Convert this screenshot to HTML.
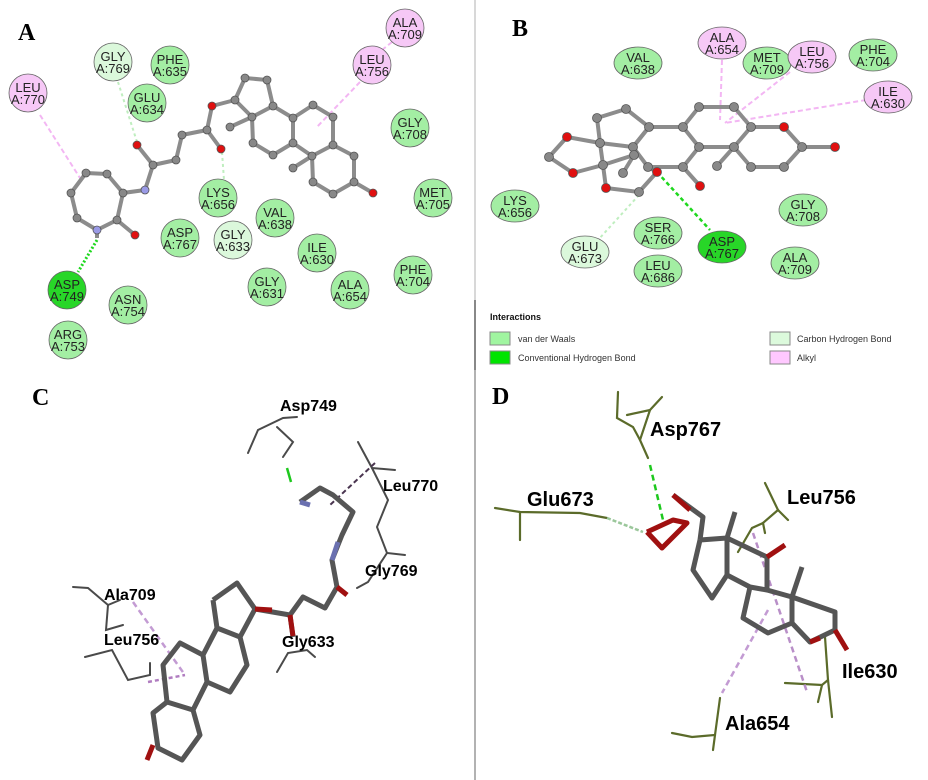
<!DOCTYPE html>
<html><head><meta charset="utf-8"><style>
html,body{margin:0;padding:0;background:#fff;width:928px;height:780px;overflow:hidden}
svg{display:block}
.r text{font-family:"Liberation Sans",sans-serif;font-size:13px;fill:#222;text-anchor:middle}
.lab{font-family:"Liberation Serif",serif;font-weight:bold;font-size:24px;fill:#000}
.res{font-family:"Liberation Sans",sans-serif;font-weight:bold;fill:#000}
.lg{font-family:"Liberation Sans",sans-serif;font-size:9px;fill:#333}
</style></head><body>
<svg width="928" height="780" viewBox="0 0 928 780" xmlns="http://www.w3.org/2000/svg">
<rect width="928" height="780" fill="#fff"/>
<line x1="475" y1="0" x2="475" y2="300" stroke="#ccc" stroke-width="1.5"/>
<line x1="475" y1="300" x2="475" y2="370" stroke="#888" stroke-width="2"/>
<line x1="475" y1="370" x2="475" y2="780" stroke="#999" stroke-width="1.5"/>

<text class="lab" x="18" y="40">A</text>
<text class="lab" x="512" y="36">B</text>
<text class="lab" x="32" y="405">C</text>
<text class="lab" x="492" y="404">D</text>

<g fill="none" stroke-width="2">
<line x1="40" y1="115" x2="80" y2="178" stroke="#f3b6f3" stroke-dasharray="5,3"/>
<line x1="118" y1="82" x2="137" y2="142" stroke="#bfeebf" stroke-dasharray="3,3"/>
<line x1="222" y1="152" x2="224" y2="180" stroke="#bfeebf" stroke-dasharray="3,3"/>
<line x1="360" y1="82" x2="316" y2="128" stroke="#f3b6f3" stroke-dasharray="5,3"/>
<line x1="392" y1="42" x2="382" y2="50" stroke="#f3b6f3" stroke-dasharray="5,3"/>
<line x1="97" y1="240" x2="78" y2="272" stroke="#1ed81e" stroke-width="3" stroke-dasharray="2,2"/>
</g>
<g fill="none" stroke="#8c8c8c" stroke-width="4" stroke-linejoin="round">
<polyline points="86,173 107,174 123,193 117,220 97,230 77,218 71,193 86,173"/>
<polyline points="123,193 145,190 153,165 176,160 182,135 207,130 212,106 235,100"/>
<line x1="153" y1="165" x2="137" y2="145"/>
<line x1="207" y1="130" x2="221" y2="149"/>
<line x1="117" y1="220" x2="135" y2="235"/>
<line x1="97" y1="230" x2="97" y2="238"/>
<polyline points="235,100 245,78 267,80 273,106 252,117 235,100"/>
<line x1="252" y1="117" x2="230" y2="127"/>
<polyline points="252,117 253,143 273,155 293,143 293,118 273,106"/>
<polyline points="293,118 313,105 333,117 333,145 312,156 293,143"/>
<line x1="312" y1="156" x2="293" y2="168"/>
<polyline points="312,156 313,182 333,194 354,182 354,156 333,145"/>
<line x1="354" y1="182" x2="373" y2="193"/>
</g>
<g fill="#888" stroke="#555" stroke-width="0.8">
<circle cx="86" cy="173" r="4"/><circle cx="107" cy="174" r="4"/><circle cx="123" cy="193" r="4"/><circle cx="117" cy="220" r="4"/><circle cx="77" cy="218" r="4"/><circle cx="71" cy="193" r="4"/>
<circle cx="153" cy="165" r="4"/><circle cx="176" cy="160" r="4"/><circle cx="182" cy="135" r="4"/><circle cx="207" cy="130" r="4"/><circle cx="235" cy="100" r="4"/>
<circle cx="245" cy="78" r="4"/><circle cx="267" cy="80" r="4"/><circle cx="273" cy="106" r="4"/><circle cx="252" cy="117" r="4"/><circle cx="230" cy="127" r="4"/>
<circle cx="253" cy="143" r="4"/><circle cx="273" cy="155" r="4"/><circle cx="293" cy="143" r="4"/><circle cx="293" cy="118" r="4"/>
<circle cx="313" cy="105" r="4"/><circle cx="333" cy="117" r="4"/><circle cx="333" cy="145" r="4"/><circle cx="312" cy="156" r="4"/><circle cx="293" cy="168" r="4"/>
<circle cx="313" cy="182" r="4"/><circle cx="333" cy="194" r="4"/><circle cx="354" cy="182" r="4"/><circle cx="354" cy="156" r="4"/>
</g>
<g stroke="#555" stroke-width="0.8">
<circle cx="97" cy="230" r="4" fill="#9a9ae6"/><circle cx="145" cy="190" r="4" fill="#9a9ae6"/>
<circle cx="135" cy="235" r="4" fill="#e01010"/><circle cx="137" cy="145" r="4" fill="#e01010"/><circle cx="221" cy="149" r="4" fill="#e01010"/><circle cx="212" cy="106" r="4" fill="#e01010"/><circle cx="373" cy="193" r="4" fill="#e01010"/>
</g>
<g class="r" stroke="#666" stroke-width="0.8">
<circle cx="28" cy="93" r="19" fill="#f6c8f6"/><circle cx="113" cy="62" r="19" fill="#dbf8db"/><circle cx="170" cy="65" r="19" fill="#a3eea3"/><circle cx="147" cy="103" r="19" fill="#a3eea3"/>
<circle cx="405" cy="28" r="19" fill="#f6c8f6"/><circle cx="372" cy="65" r="19" fill="#f6c8f6"/><circle cx="410" cy="128" r="19" fill="#a3eea3"/><circle cx="433" cy="198" r="19" fill="#a3eea3"/>
<circle cx="218" cy="198" r="19" fill="#a3eea3"/><circle cx="275" cy="218" r="19" fill="#a3eea3"/><circle cx="180" cy="238" r="19" fill="#a3eea3"/><circle cx="233" cy="240" r="19" fill="#dbf8db"/>
<circle cx="317" cy="253" r="19" fill="#a3eea3"/><circle cx="413" cy="275" r="19" fill="#a3eea3"/><circle cx="267" cy="287" r="19" fill="#a3eea3"/><circle cx="350" cy="290" r="19" fill="#a3eea3"/>
<circle cx="67" cy="290" r="19" fill="#28d628"/><circle cx="128" cy="305" r="19" fill="#a3eea3"/><circle cx="68" cy="340" r="19" fill="#a3eea3"/>
</g>
<g class="r">
<text x="28" y="92">LEU</text><text x="28" y="104">A:770</text>
<text x="113" y="61">GLY</text><text x="113" y="73">A:769</text>
<text x="170" y="64">PHE</text><text x="170" y="76">A:635</text>
<text x="147" y="102">GLU</text><text x="147" y="114">A:634</text>
<text x="405" y="27">ALA</text><text x="405" y="39">A:709</text>
<text x="372" y="64">LEU</text><text x="372" y="76">A:756</text>
<text x="410" y="127">GLY</text><text x="410" y="139">A:708</text>
<text x="433" y="197">MET</text><text x="433" y="209">A:705</text>
<text x="218" y="197">LYS</text><text x="218" y="209">A:656</text>
<text x="275" y="217">VAL</text><text x="275" y="229">A:638</text>
<text x="180" y="237">ASP</text><text x="180" y="249">A:767</text>
<text x="233" y="239">GLY</text><text x="233" y="251">A:633</text>
<text x="317" y="252">ILE</text><text x="317" y="264">A:630</text>
<text x="413" y="274">PHE</text><text x="413" y="286">A:704</text>
<text x="267" y="286">GLY</text><text x="267" y="298">A:631</text>
<text x="350" y="289">ALA</text><text x="350" y="301">A:654</text>
<text x="67" y="289">ASP</text><text x="67" y="301">A:749</text>
<text x="128" y="304">ASN</text><text x="128" y="316">A:754</text>
<text x="68" y="339">ARG</text><text x="68" y="351">A:753</text>
</g>

<g fill="none" stroke-width="2">
<line x1="722" y1="60" x2="720" y2="120" stroke="#f3b6f3" stroke-dasharray="5,3"/>
<line x1="790" y1="72" x2="725" y2="123" stroke="#f3b6f3" stroke-dasharray="5,3"/>
<line x1="866" y1="100" x2="725" y2="123" stroke="#f3b6f3" stroke-dasharray="5,3"/>
<line x1="657" y1="172" x2="710" y2="230" stroke="#1ed81e" stroke-width="2.5" stroke-dasharray="4,3"/>
<line x1="639" y1="195" x2="598" y2="240" stroke="#bfeebf" stroke-dasharray="3,3"/>
</g>
<g fill="none" stroke="#8c8c8c" stroke-width="4" stroke-linejoin="round">
<polyline points="597,118 626,109 649,127 633,147 600,143 597,118"/>
<polyline points="600,143 567,137 549,157 573,173 603,165 600,143"/>
<line x1="603" y1="165" x2="634" y2="155"/><line x1="634" y1="155" x2="623" y2="173"/>
<polyline points="603,165 606,188 639,192 657,172 648,167"/>
<polyline points="649,127 633,147 648,167 683,167 699,147 683,127 649,127"/>
<line x1="683" y1="167" x2="700" y2="186"/>
<polyline points="683,127 699,107 734,107 751,127 734,147 699,147"/>
<polyline points="751,127 784,127 802,147 784,167 751,167 734,147"/>
<line x1="734" y1="147" x2="717" y2="166"/><line x1="802" y1="147" x2="835" y2="147"/>
</g>
<g fill="#888" stroke="#555" stroke-width="0.8">
<circle cx="597" cy="118" r="4.5"/><circle cx="626" cy="109" r="4.5"/><circle cx="649" cy="127" r="4.5"/><circle cx="633" cy="147" r="4.5"/><circle cx="600" cy="143" r="4.5"/>
<circle cx="549" cy="157" r="4.5"/><circle cx="603" cy="165" r="4.5"/><circle cx="634" cy="155" r="4.5"/><circle cx="623" cy="173" r="4.5"/><circle cx="639" cy="192" r="4.5"/>
<circle cx="648" cy="167" r="4.5"/><circle cx="683" cy="167" r="4.5"/><circle cx="699" cy="147" r="4.5"/><circle cx="683" cy="127" r="4.5"/>
<circle cx="699" cy="107" r="4.5"/><circle cx="734" cy="107" r="4.5"/><circle cx="751" cy="127" r="4.5"/><circle cx="734" cy="147" r="4.5"/>
<circle cx="802" cy="147" r="4.5"/><circle cx="784" cy="167" r="4.5"/><circle cx="751" cy="167" r="4.5"/><circle cx="717" cy="166" r="4.5"/>
</g>
<g fill="#e01010" stroke="#555" stroke-width="0.8">
<circle cx="567" cy="137" r="4.5"/><circle cx="573" cy="173" r="4.5"/><circle cx="606" cy="188" r="4.5"/><circle cx="657" cy="172" r="4.5"/><circle cx="700" cy="186" r="4.5"/><circle cx="784" cy="127" r="4.5"/><circle cx="835" cy="147" r="4.5"/>
</g>
<g class="r" stroke="#666" stroke-width="0.8">
<ellipse cx="638" cy="63" rx="24" ry="16" fill="#a3eea3"/><ellipse cx="722" cy="43" rx="24" ry="16" fill="#f6c8f6"/>
<ellipse cx="767" cy="63" rx="24" ry="16" fill="#a3eea3"/><ellipse cx="812" cy="57" rx="24" ry="16" fill="#f6c8f6"/>
<ellipse cx="873" cy="55" rx="24" ry="16" fill="#a3eea3"/><ellipse cx="888" cy="97" rx="24" ry="16" fill="#f6c8f6"/>
<ellipse cx="515" cy="206" rx="24" ry="16" fill="#a3eea3"/><ellipse cx="803" cy="210" rx="24" ry="16" fill="#a3eea3"/>
<ellipse cx="658" cy="233" rx="24" ry="16" fill="#a3eea3"/><ellipse cx="722" cy="247" rx="24" ry="16" fill="#28d628"/>
<ellipse cx="585" cy="252" rx="24" ry="16" fill="#dbf8db"/><ellipse cx="658" cy="271" rx="24" ry="16" fill="#a3eea3"/>
<ellipse cx="795" cy="263" rx="24" ry="16" fill="#a3eea3"/>
</g>
<g class="r" style="font-size:14px">
<text x="638" y="62">VAL</text><text x="638" y="74">A:638</text>
<text x="722" y="42">ALA</text><text x="722" y="54">A:654</text>
<text x="767" y="62">MET</text><text x="767" y="74">A:709</text>
<text x="812" y="56">LEU</text><text x="812" y="68">A:756</text>
<text x="873" y="54">PHE</text><text x="873" y="66">A:704</text>
<text x="888" y="96">ILE</text><text x="888" y="108">A:630</text>
<text x="515" y="205">LYS</text><text x="515" y="217">A:656</text>
<text x="803" y="209">GLY</text><text x="803" y="221">A:708</text>
<text x="658" y="232">SER</text><text x="658" y="244">A:766</text>
<text x="722" y="246">ASP</text><text x="722" y="258">A:767</text>
<text x="585" y="251">GLU</text><text x="585" y="263">A:673</text>
<text x="658" y="270">LEU</text><text x="658" y="282">A:686</text>
<text x="795" y="262">ALA</text><text x="795" y="274">A:709</text>
</g>
<text x="490" y="320" class="lg" style="font-weight:bold;fill:#111">Interactions</text>
<rect x="490" y="332" width="20" height="13" fill="#a0f5a0" stroke="#888"/>
<rect x="490" y="351" width="20" height="13" fill="#00e400" stroke="#888"/>
<rect x="770" y="332" width="20" height="13" fill="#dcfadc" stroke="#888"/>
<rect x="770" y="351" width="20" height="13" fill="#ffc8ff" stroke="#888"/>
<text x="518" y="342" class="lg">van der Waals</text>
<text x="518" y="361" class="lg">Conventional Hydrogen Bond</text>
<text x="797" y="342" class="lg">Carbon Hydrogen Bond</text>
<text x="797" y="361" class="lg">Alkyl</text>

<g fill="none" stroke="#4a4a4a" stroke-width="2" stroke-linecap="round">
<polyline points="248,453 258,430 283,418 297,417"/>
<polyline points="277,427 293,442 283,457"/>
<polyline points="358,442 372,468 395,470"/>
<polyline points="372,468 388,500 377,527 387,553 405,555"/>
<polyline points="387,553 368,582 357,588"/>
<polyline points="73,587 88,588 108,605 120,600"/>
<polyline points="108,605 106,630 123,625"/>
<polyline points="85,657 112,650 128,680 150,675 150,663"/>
<polyline points="277,672 288,653 307,650 315,657"/>
</g>
<line x1="287" y1="468" x2="291" y2="482" stroke="#1ec81e" stroke-width="2.5"/>
<line x1="375" y1="463" x2="330" y2="505" stroke="#4a3550" stroke-width="2" stroke-dasharray="5,3"/>
<line x1="133" y1="602" x2="185" y2="675" stroke="#c39bd3" stroke-width="2.5" stroke-dasharray="6,4"/>
<line x1="148" y1="682" x2="185" y2="675" stroke="#b07cc0" stroke-width="2.5" stroke-dasharray="4,3"/>
<g fill="none" stroke="#555" stroke-width="5" stroke-linejoin="round">
<polyline points="213,600 237,583 255,609 240,637 217,628 213,600"/>
<polyline points="217,628 203,655 207,682 230,692 247,665 240,637"/>
<polyline points="203,655 180,643 163,665 167,702 193,710 207,682"/>
<polyline points="167,702 153,713 158,748 182,760 200,735 193,710"/>
<polyline points="255,609 290,615 303,597 325,608 337,587 332,560 342,535 353,512 333,495 320,488 300,502"/>
<line x1="290" y1="615" x2="293" y2="637"/>
</g>
<g stroke-width="5" fill="none">
<line x1="255" y1="609" x2="272" y2="610" stroke="#a01010"/>
<line x1="290" y1="615" x2="293" y2="636" stroke="#a01010"/>
<line x1="337" y1="587" x2="347" y2="595" stroke="#a01010"/>
<line x1="153" y1="745" x2="147" y2="760" stroke="#a01010"/>
<line x1="332" y1="560" x2="338" y2="542" stroke="#6a70b0"/>
<line x1="300" y1="502" x2="310" y2="505" stroke="#6a70b0"/>
</g>
<g class="res" style="font-size:16px">
<text x="280" y="411">Asp749</text>
<text x="383" y="491">Leu770</text>
<text x="365" y="576">Gly769</text>
<text x="104" y="600">Ala709</text>
<text x="104" y="645">Leu756</text>
<text x="282" y="647">Gly633</text>
</g>

<g fill="none" stroke="#5b6b2a" stroke-width="2.2" stroke-linecap="round">
<polyline points="618,392 617,418 633,427 640,440 648,458"/>
<polyline points="640,440 650,410 627,415"/>
<line x1="650" y1="410" x2="662" y2="397"/>
<polyline points="495,508 520,512 580,513 607,518"/>
<line x1="520" y1="512" x2="520" y2="540"/>
<polyline points="765,483 778,510 788,520"/>
<polyline points="778,510 763,523 752,528 738,552"/>
<line x1="763" y1="523" x2="765" y2="533"/>
<polyline points="825,637 828,680 822,685 785,683"/>
<line x1="828" y1="680" x2="832" y2="717"/>
<line x1="822" y1="685" x2="818" y2="702"/>
<polyline points="720,698 715,735 692,737 672,733"/>
<line x1="715" y1="735" x2="713" y2="750"/>
</g>
<line x1="650" y1="465" x2="663" y2="520" stroke="#1ec81e" stroke-width="2.5" stroke-dasharray="6,4"/>
<line x1="607" y1="518" x2="643" y2="532" stroke="#9bc79b" stroke-width="2.5" stroke-dasharray="4,2"/>
<line x1="768" y1="610" x2="722" y2="693" stroke="#c39bd3" stroke-width="2.5" stroke-dasharray="6,4"/>
<line x1="753" y1="533" x2="807" y2="692" stroke="#b98fc8" stroke-width="2.5" stroke-dasharray="6,4"/>
<g fill="none" stroke="#555" stroke-width="5" stroke-linejoin="round">
<polyline points="700,540 693,570 712,598 727,575 727,538 700,540"/>
<line x1="727" y1="538" x2="735" y2="512"/>
<polyline points="727,538 767,557 767,590 750,587 727,575"/>
<polyline points="767,590 792,597 792,623 768,633 743,618 750,587"/>
<line x1="792" y1="597" x2="802" y2="567"/>
<polyline points="792,597 835,612 835,630 810,642 792,623"/>
<polyline points="673,495 703,517 700,540"/>
</g>
<g fill="none" stroke="#a01010" stroke-width="5" stroke-linejoin="round">
<polyline points="647,532 662,548 687,523 673,520 647,532"/>
<line x1="673" y1="495" x2="690" y2="510"/>
<line x1="767" y1="557" x2="785" y2="545"/>
<line x1="835" y1="630" x2="847" y2="650"/>
<line x1="820" y1="638" x2="810" y2="642"/>
</g>
<g class="res" style="font-size:20px">
<text x="650" y="436">Asp767</text>
<text x="527" y="506">Glu673</text>
<text x="787" y="504">Leu756</text>
<text x="842" y="678">Ile630</text>
<text x="725" y="730">Ala654</text>
</g>
</svg>
</body></html>
